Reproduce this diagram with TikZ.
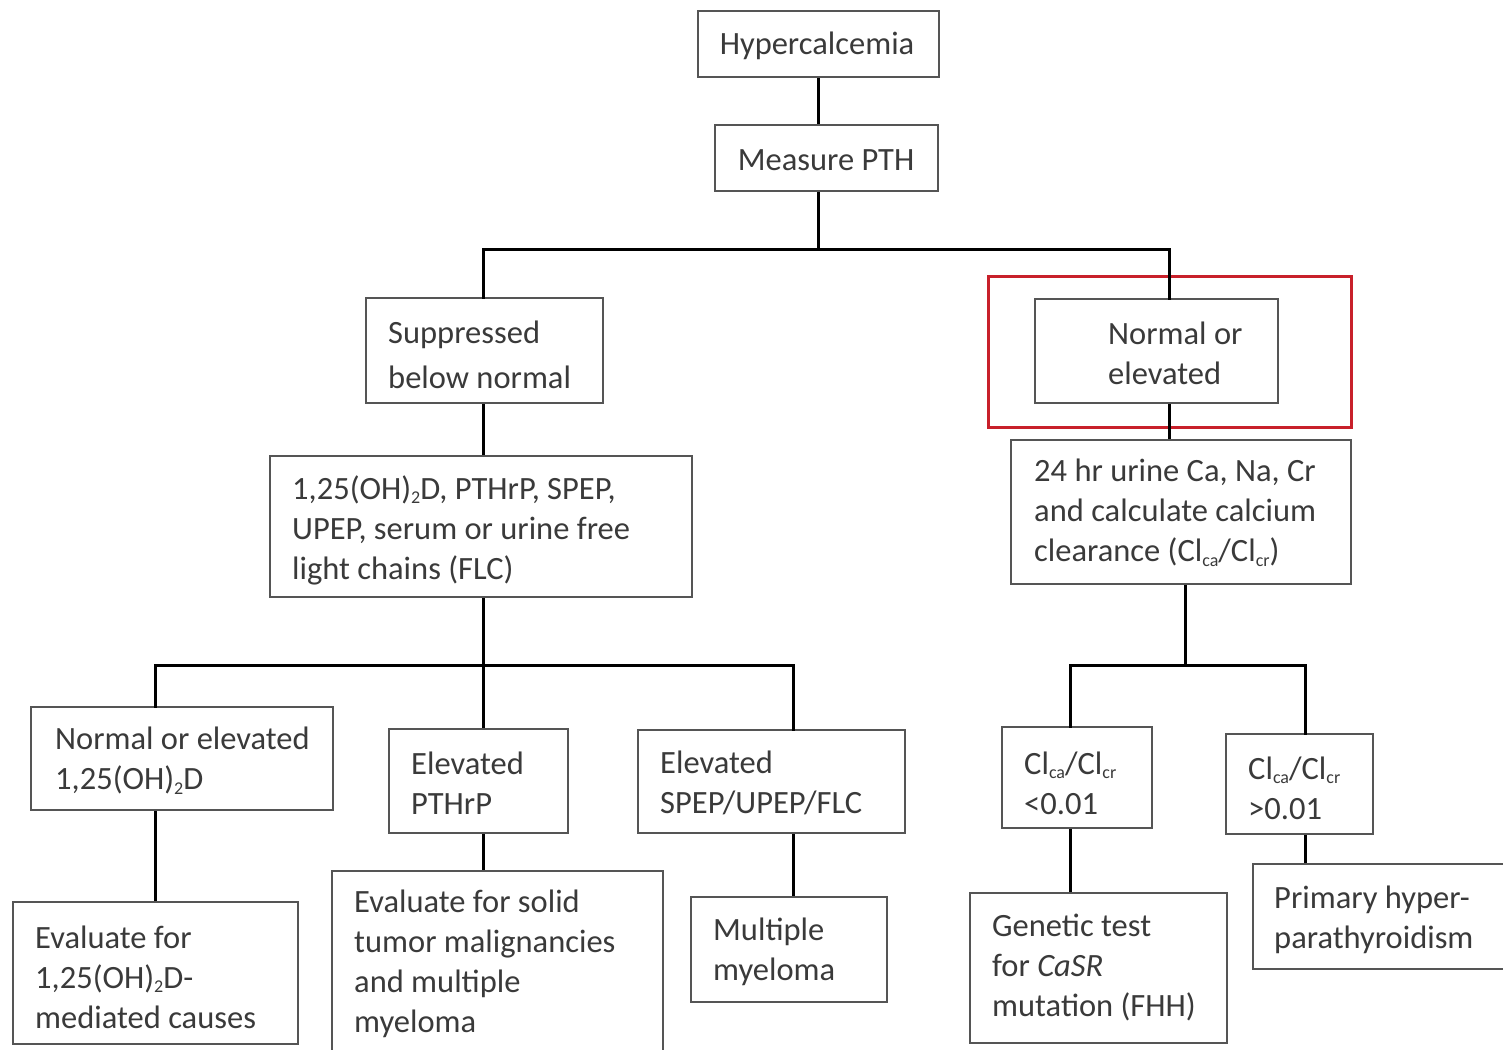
\documentclass[tikz,border=0pt]{standalone}
\usepackage{fontspec}
\setmainfont{Carlito}
\usetikzlibrary{fit}
\definecolor{boxgray}{HTML}{555555}
\definecolor{txtgray}{HTML}{3A3A3A}
\definecolor{hlred}{HTML}{C8202A}
\newcommand\sbs[1]{\raisebox{-0.3ex}{\fontsize{18}{18}\selectfont #1}}
\tikzset{
  box/.style={draw=boxgray, line width=2pt, inner sep=0pt, fill=white},
  redbox/.style={draw=hlred, line width=3pt, inner sep=0pt},
  txt/.style={anchor=west, inner sep=0pt, align=left, text=txtgray,
    font=\fontsize{32.5}{40}\selectfont},
  link/.style={draw=black, line width=3pt}
}
\newcommand\mybox[5]{\node[box, fit={(#2,#3) (#4,#5)}] (#1) {};}
\begin{document}
\begin{tikzpicture}[x=1pt,y=-1pt]
\useasboundingbox (0,0) rectangle (1503,1049);
% highlight
\node[redbox, fit={(988,276) (1351,427)}] (hl) {};
% boxes
\mybox{hyp}{698}{11}{939}{77}
\mybox{pth}{715}{125}{938}{191}
\mybox{sup}{366}{298}{603}{403}
\mybox{nor}{1035}{299}{1278}{403}
\mybox{uri}{1011}{440}{1351}{584}
\mybox{lab}{270}{456}{692}{597}
\mybox{vd}{31}{707}{333}{810}
\mybox{pthrp}{389}{729}{568}{833}
\mybox{spep}{638}{730}{905}{833}
\mybox{clo}{1002}{727}{1152}{828}
\mybox{chi}{1226}{734}{1373}{834}
\mybox{evd}{13}{902}{298}{1044}
\mybox{tum}{332}{871}{663}{1060}
\mybox{mm}{691}{897}{887}{1002}
\mybox{gen}{970}{893}{1227}{1043}
\mybox{php}{1253}{864}{1520}{969}
% texts
\node[txt, anchor=center] (hypt) at (817,46) {Hypercalcemia};
\node[txt, anchor=center] (ptht) at (826,160) {Measure PTH};
\node[txt, font=\fontsize{32.5}{45}\selectfont] (supt) at (388,355) {Suppressed\\below normal};
\node[txt] (nort) at (1108,353) {Normal or\\elevated};
\node[txt] (urit) at (1034,513) {24 hr urine Ca, Na, Cr\\and calculate calcium\\clearance (Cl\sbs{ca}/Cl\sbs{cr})};
\node[txt] (labt) at (292,530) {1,25(OH)\sbs{2}D, PTHrP, SPEP,\\UPEP, serum or urine free\\light chains (FLC)};
\node[txt] (vdt) at (55,761) {Normal or elevated\\1,25(OH)\sbs{2}D};
\node[txt] (pthrpt) at (411,783) {Elevated\\PTHrP};
\node[txt] (spept) at (660,783) {Elevated\\SPEP/UPEP/FLC};
\node[txt] (clot) at (1024,783) {Cl\sbs{ca}/Cl\sbs{cr}\\<0.01};
\node[txt] (chit) at (1248,788) {Cl\sbs{ca}/Cl\sbs{cr}\\>0.01};
\node[txt] (evdt) at (35,977) {Evaluate for\\1,25(OH)\sbs{2}D-\\mediated causes};
\node[txt] (tumt) at (354,964) {Evaluate for solid\\tumor malignancies\\and multiple\\myeloma};
\node[txt] (mmt) at (713,952) {Multiple\\myeloma};
\node[txt] (gent) at (992,968) {Genetic test\\for \textit{CaSR}\\mutation (FHH)};
\node[txt] (phpt) at (1274,920) {Primary hyper-\\parathyroidism};
% junction coordinates
\coordinate (j1) at (818,249);
\coordinate (j2) at (483,665);
\coordinate (j3) at (1185,665);
% connectors
\draw[link] (hyp.south -| 818,0) -- (pth.north -| 818,0);
\draw[link] (pth.south -| 818,0) -- (j1);
\draw[link, line cap=rect] (sup.north -| 483,0) |- (j1) -| (nor.north -| 1169,0);
\draw[link] (sup.south -| 483,0) -- (lab.north -| 483,0);
\draw[link] (nor.south -| 1169,0) -- (uri.north -| 1169,0);
\draw[link] (lab.south -| j2) -- (j2);
\draw[link] (j2) -- (pthrp.north -| j2);
\draw[link, line cap=rect] (vd.north -| 155,0) |- (j2) -| (spep.north -| 793,0);
\draw[link] (vd.south -| 155,0) -- (evd.north -| 155,0);
\draw[link] (pthrp.south -| 483,0) -- (tum.north -| 483,0);
\draw[link] (spep.south -| 793,0) -- (mm.north -| 793,0);
\draw[link] (uri.south -| j3) -- (j3);
\draw[link, line cap=rect] (clo.north -| 1070,0) |- (j3) -| (chi.north -| 1305,0);
\draw[link] (clo.south -| 1070,0) -- (gen.north -| 1070,0);
\draw[link] (chi.south -| 1305,0) -- (php.north -| 1305,0);
\end{tikzpicture}
\end{document}
